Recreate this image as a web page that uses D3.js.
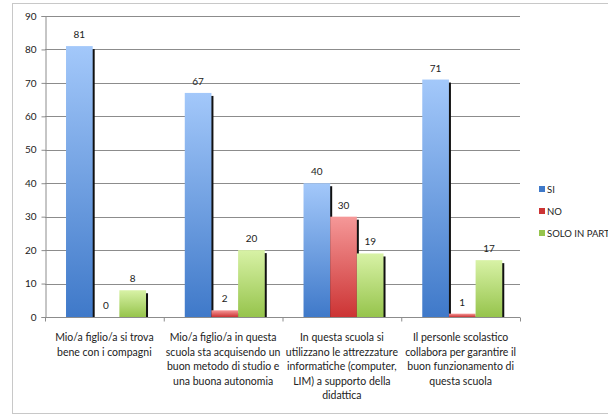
<!DOCTYPE html>
<html><head><meta charset="utf-8">
<script src="https://cdn.jsdelivr.net/npm/d3@7"></script>
<style>body{margin:0;background:#fff;overflow:hidden}svg{display:block}text{font-family:Lato,"Open Sans",sans-serif;fill:#222}</style>
</head><body><svg id="c" width="608" height="415"></svg>
<script>
const categories = [
  ["Mio/a figlio/a si trova","bene con i compagni"],
  ["Mio/a figlio/a in questa","scuola sta acquisendo un","buon metodo di studio e","una buona autonomia"],
  ["In questa scuola si","utilizzano le attrezzature","informatiche (computer,","LIM) a supporto della","didattica"],
  ["Il personle scolastico","collabora per garantire il","buon funzionamento di","questa scuola"]
];
const seriesNames = ["SI","NO","SOLO IN PARTE"];
const si = [81,67,40,71];
const no = [0,2,30,1];
const solo = [8,20,19,17];
const yTicks = [0,10,20,30,40,50,60,70,80,90];
const colors = [["#a3c8fa","#3f79c9"],["#f59898","#cc3434"],["#d8f2a6","#96c44c"]];

const svg = d3.select("#c");
const defs = svg.append("defs");
colors.forEach((c,i)=>{
  const g = defs.append("linearGradient").attr("id","g"+i).attr("x1",0).attr("y1",0).attr("x2",0).attr("y2",1);
  g.append("stop").attr("offset","0%").attr("stop-color",c[0]);
  g.append("stop").attr("offset","100%").attr("stop-color",c[1]);
});

// outer frame
svg.append("rect").attr("x",12.5).attr("y",3.5).attr("width",640).attr("height",410)
  .attr("fill","none").attr("stroke","#c8c8c8");

const L=45, R=520, T=16, B=317;
const y = d3.scaleLinear().domain([0,90]).range([B,T]);
const idx = d3.range(categories.length);
const x0 = d3.scaleBand().domain(idx).range([L,R]).padding(0);
const x1 = d3.scaleBand().domain(d3.range(3)).range([0,80]).padding(0);
const off = x0.bandwidth()*0.177;

// gridlines
svg.append("g").selectAll("line").data(yTicks.slice(1)).join("line")
  .attr("x1",L).attr("x2",R).attr("y1",d=>Math.round(y(d))+0.5).attr("y2",d=>Math.round(y(d))+0.5)
  .attr("stroke","#8c8c8c").attr("stroke-width",1);

// y axis
const ya = svg.append("g").attr("transform",`translate(${L+0.5},0)`)
  .call(d3.axisLeft(y).tickValues(yTicks).tickSize(4).tickPadding(5).tickFormat(d3.format("d")));
ya.select(".domain").attr("stroke","#8c8c8c");
ya.selectAll(".tick line").attr("stroke","#8c8c8c");
ya.selectAll(".tick text").attr("font-size","10px").style("font-family","Lato,sans-serif").attr("fill","#222");

const data = [si,no,solo];
const bars = [];
data.forEach((arr,s)=>arr.forEach((v,c)=>bars.push({s,c,v})));

// shadows
svg.append("g").selectAll("rect").data(bars.filter(d=>d.v>0)).join("rect")
  .attr("x",d=>x0(d.c)+off+x1(d.s)+2)
  .attr("y",d=>y(d.v)+3)
  .attr("width",x1.bandwidth())
  .attr("height",d=>Math.max(0,B-y(d.v)-3))
  .attr("fill","#111");
// bars
svg.append("g").selectAll("rect").data(bars).join("rect")
  .attr("x",d=>x0(d.c)+off+x1(d.s))
  .attr("y",d=>y(d.v))
  .attr("width",x1.bandwidth())
  .attr("height",d=>B-y(d.v))
  .attr("fill",d=>`url(#g${d.s})`);
// value labels
svg.append("g").selectAll("text").data(bars).join("text")
  .attr("x",d=>x0(d.c)+off+x1(d.s)+x1.bandwidth()/2)
  .attr("y",d=>y(d.v)-8)
  .attr("text-anchor","middle").attr("font-size","10px")
  .text(d=>d.v);

// x axis
const xa = svg.append("g").attr("transform",`translate(0,${B+0.5})`);
xa.append("line").attr("x1",L).attr("x2",R).attr("stroke","#8c8c8c");
xa.selectAll(".tk").data(idx.concat([idx.length])).join("line").attr("class","tk")
  .attr("x1",d=>d<idx.length?x0(d)+0.5:R+0.5).attr("x2",d=>d<idx.length?x0(d)+0.5:R+0.5)
  .attr("y1",0).attr("y2",4).attr("stroke","#8c8c8c");
const lbl = svg.append("g").selectAll("text").data(idx).join("text")
  .attr("x",d=>x0(d)+x0.bandwidth()/2).attr("y",341)
  .attr("text-anchor","middle").attr("font-size","10.5px");
lbl.each(function(d){
  const t=d3.select(this);
  categories[d].forEach((line,i)=>t.append("tspan").attr("x",x0(d)+x0.bandwidth()/2).attr("dy",i?14.6:0).text(line));
});

// legend
const lg = svg.append("g").selectAll("g").data(seriesNames).join("g")
  .attr("transform",(d,i)=>`translate(539,${186+i*22})`);
lg.append("rect").attr("width",6).attr("height",6).attr("fill",(d,i)=>colors[i][1]);
lg.append("text").attr("x",8).attr("y",7).attr("font-size","9.5px").text(d=>d);
</script></body></html>
